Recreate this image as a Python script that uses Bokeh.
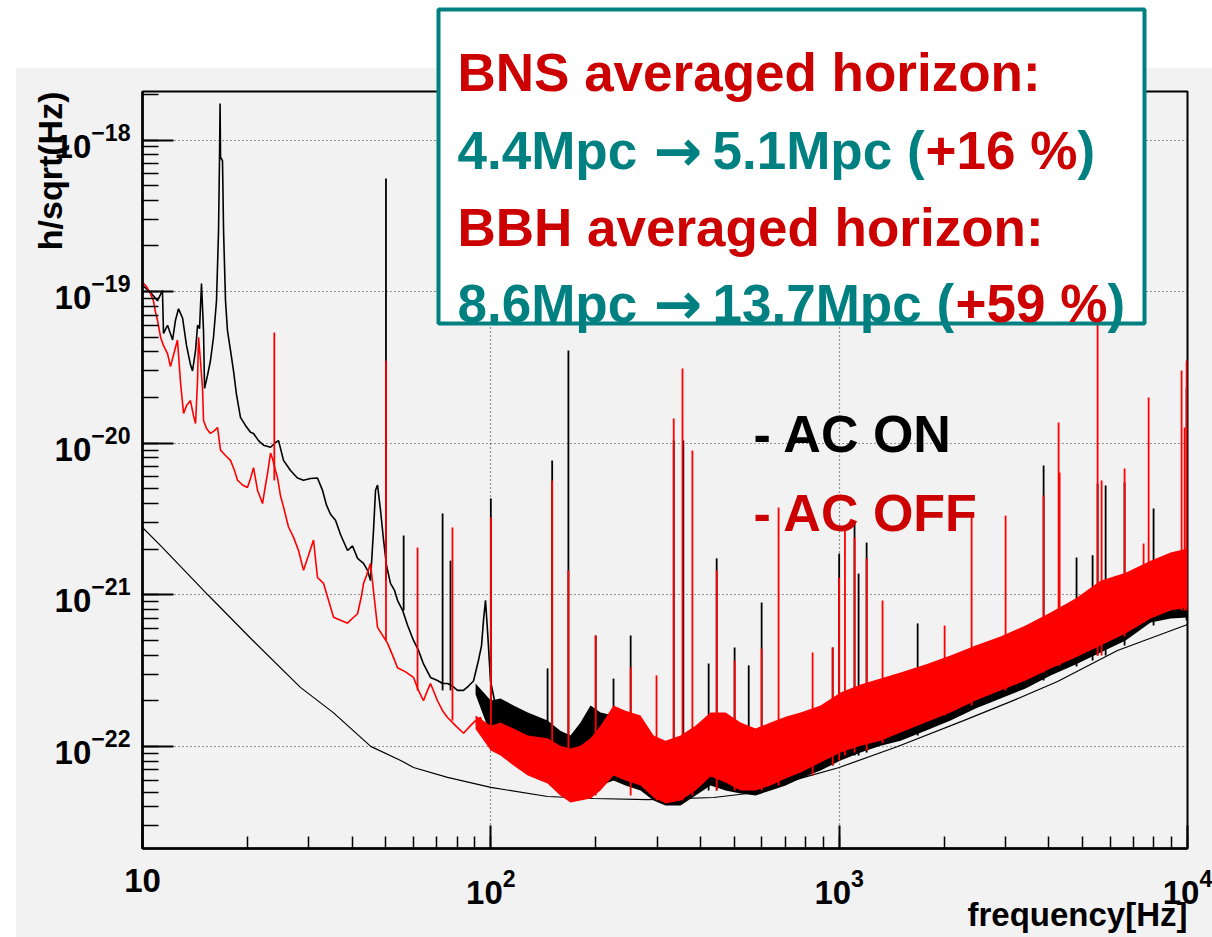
import numpy as np
from bokeh.plotting import figure
from bokeh.layouts import column
from bokeh.models import Label, BoxAnnotation, Range1d, Title
from bokeh.embed import file_html
from bokeh.resources import INLINE

# ---------------- data (frequency in Hz, strain ASD in 1/sqrt(Hz)) ----------------
x_ticks_plain = {10: "10"}

design_f = [10.0, 11.27, 15.4, 20.4, 28.4, 35.3, 45.2, 55.1, 60.0, 75.1, 100, 145.5, 197, 282,
            436, 546, 679, 774, 1000, 1472, 2276, 3168, 4236, 6295, 10000]
design_h = [2.78e-21, 2.11e-21, 1.0e-21, 5.19e-22, 2.45e-22, 1.67e-22, 1.0e-22, 8.07e-23, 7.26e-23,
            6.24e-23, 5.36e-23, 4.67e-23, 4.53e-23, 4.46e-23, 4.60e-23, 4.89e-23, 5.61e-23, 6.15e-23,
            7.26e-23, 9.98e-23, 1.48e-22, 2.01e-22, 2.68e-22, 4.29e-22, 6.37e-22]

# AC ON (black) low-frequency trace
on_trace_f = [10.0, 10.54, 11.04, 11.41, 11.49, 11.80, 12.20, 12.44, 12.69, 13.03, 13.38, 13.73, 13.92,
              14.20, 14.39, 14.58, 14.77, 14.97, 15.07, 15.37, 15.67, 15.99, 16.31, 16.53, 16.64, 16.70,
              16.75, 16.97, 17.09, 17.31, 17.54, 17.89, 18.25, 18.61, 19.11, 19.75, 20.42, 20.83, 21.53,
              22.26, 23.31, 24.09, 24.58, 25.40, 26.60, 27.86, 28.99, 30.36, 31.79, 32.86, 33.75, 34.65,
              35.82, 37.02, 38.78, 40.09, 41.44, 43.11, 44.26, 45.13, 46.04, 46.67, 47.29, 48.24, 49.20,
              50.17, 51.52, 52.90, 53.96, 55.80, 57.67, 59.98, 61.99, 64.07, 67.11, 70.29, 72.66, 75.10,
              77.62, 80.22, 83.46, 86.27, 89.17, 92.17, 94.01, 95.28, 96.54, 97.83, 99.8, 102.5, 104.5,
              110.2, 116.2]
on_trace_h = [1.10e-19, 9.9e-20, 8.7e-20, 1.02e-19, 5.3e-20, 6.0e-20, 4.8e-20, 6.5e-20, 7.7e-20, 6.7e-20,
              4.4e-20, 3.3e-20, 3.0e-20, 4.1e-20, 6.0e-20, 5.7e-20, 1.13e-19, 5.5e-20, 2.3e-20, 2.8e-20,
              3.5e-20, 5.0e-20, 8.7e-20, 2.5e-19, 7.7e-19, 1.74e-18, 7.7e-19, 7.3e-19, 2.5e-19, 8.7e-20,
              5.5e-20, 4.1e-20, 3.0e-20, 2.1e-20, 1.48e-20, 1.31e-20, 1.18e-20, 1.16e-20, 1.04e-20, 9.7e-21,
              9.4e-21, 1.01e-20, 1.04e-20, 7.7e-21, 6.6e-21, 5.9e-21, 5.7e-21, 5.85e-21, 5.9e-21, 4.9e-21,
              3.9e-21, 3.4e-21, 3.1e-21, 2.5e-21, 1.96e-21, 2.1e-21, 1.74e-21, 1.61e-21, 1.45e-21, 1.24e-21,
              2.65e-21, 4.9e-21, 5.3e-21, 3.6e-21, 2.3e-21, 1.56e-21, 1.19e-21, 1.07e-21, 9.2e-22, 7.9e-22,
              6.3e-22, 5.0e-22, 4.3e-22, 3.5e-22, 2.85e-22, 2.72e-22, 2.6e-22, 2.6e-22, 2.5e-22, 2.34e-22,
              2.34e-22, 2.5e-22, 2.7e-22, 3.7e-22, 4.6e-22, 6.8e-22, 9.2e-22, 5.8e-22, 2.7e-22, 2.0e-22,
              1.65e-22, 1.6e-22, 1.48e-22]

# AC OFF (red) low-frequency trace
off_trace_f = [10.0, 10.27, 10.54, 10.75, 10.90, 11.04, 11.27, 11.49, 11.80, 12.03, 12.27, 12.60, 12.86,
               13.12, 13.38, 13.73, 14.01, 14.20, 14.39, 14.48, 14.67, 14.87, 14.97, 15.27, 15.67, 16.10,
               16.42, 16.75, 17.31, 17.89, 18.37, 18.74, 19.37, 20.01, 20.42, 20.83, 21.39, 22.11, 22.55,
               22.85, 23.31, 23.62, 24.09, 24.42, 24.90, 25.40, 26.25, 27.13, 28.05, 28.99, 29.97, 30.97,
               31.79, 33.09, 34.20, 35.35, 37.02, 38.78, 40.09, 41.44, 42.55, 43.11, 43.97, 45.13, 46.36,
               47.29, 48.88, 50.5, 52.22, 53.96, 56.91, 59.98, 61.99, 64.07, 65.79, 67.11, 70.29, 72.66,
               75.10, 79.19, 83.46, 87.42, 90.40, 93.42, 96.54, 99.8, 104.5]
off_trace_h = [1.15e-19, 1.08e-19, 9.7e-20, 8.7e-20, 7.3e-20, 6.5e-20, 5.0e-20, 4.4e-20, 3.9e-20, 3.2e-20,
               3.8e-20, 4.8e-20, 2.5e-20, 1.57e-20, 1.77e-20, 1.91e-20, 1.52e-20, 1.35e-20, 2.6e-20, 5.0e-20,
               3.5e-20, 2.3e-20, 1.41e-20, 1.25e-20, 1.16e-20, 1.21e-20, 1.27e-20, 9.0e-21, 8.3e-21, 7.7e-21,
               6.6e-21, 5.7e-21, 5.3e-21, 5.1e-21, 5.85e-21, 6.9e-21, 4.9e-21, 4.0e-21, 5.3e-21, 6.3e-21,
               8.6e-21, 7.9e-21, 6.6e-21, 5.9e-21, 4.5e-21, 3.8e-21, 2.8e-21, 2.4e-21, 1.96e-21, 1.45e-21,
               1.82e-21, 2.3e-21, 1.30e-21, 1.19e-21, 9.2e-22, 7.1e-22, 6.8e-22, 6.5e-22, 7.0e-22, 7.5e-22,
               9.9e-22, 1.19e-21, 1.34e-21, 1.61e-21, 9.2e-22, 6.1e-22, 5.4e-22, 4.8e-22, 4.0e-22, 3.3e-22,
               3.1e-22, 2.85e-22, 2.34e-22, 2.0e-22, 2.34e-22, 2.6e-22, 2.0e-22, 1.72e-22, 1.55e-22, 1.37e-22,
               1.22e-22, 1.37e-22, 1.48e-22, 1.55e-22, 1.22e-22, 1.05e-22, 1.15e-22]

# dense noise envelope above ~90 Hz
band_f = [90.4, 100, 106.6, 116.2, 127.7, 145.5, 158.3, 169.3, 180.9, 193.3, 206.5, 225.0,
          243.6, 269.0, 293.2, 317.4, 350.4, 386.9, 427.4, 471.9, 521.2, 575.4, 635.5, 701.8, 774.9,
          884.6, 1009, 1152, 1315, 1501, 1770, 2088, 2464, 2906, 3429, 4045, 4772, 5629, 6642, 7836,
          8944, 10000]
on_band_hi = [2.6e-22, 2.01e-22, 2.07e-22, 1.86e-22, 1.67e-22, 1.48e-22, 1.27e-22,
              1.18e-22, 1.44e-22, 1.86e-22, 1.67e-22, 1.60e-22, 1.53e-22, 1.44e-22, 1.13e-22, 1.01e-22,
              1.09e-22, 1.27e-22, 1.44e-22, 1.37e-22, 1.27e-22, 1.18e-22, 1.31e-22, 1.44e-22, 1.53e-22,
              1.72e-22, 2.01e-22, 2.17e-22, 2.34e-22, 2.64e-22, 2.98e-22, 3.37e-22, 3.92e-22, 4.56e-22,
              5.31e-22, 6.37e-22, 7.64e-22, 9.17e-22, 1.07e-21, 1.28e-21, 1.45e-21, 1.49e-21]
on_band_lo = [2.2e-22, 1.18e-22, 1.13e-22, 1.01e-22, 8.7e-23, 7.48e-23, 5.96e-23,
              5.12e-23, 5.12e-23, 5.52e-23, 5.52e-23, 5.96e-23, 5.52e-23, 5.12e-23, 4.40e-23, 4.08e-23,
              4.08e-23, 4.74e-23, 5.52e-23, 5.12e-23, 4.89e-23, 4.74e-23, 5.12e-23, 5.52e-23, 6.14e-23,
              6.93e-23, 8.07e-23, 9.1e-23, 1.01e-22, 1.09e-22, 1.27e-22, 1.48e-22, 1.78e-22, 2.07e-22,
              2.41e-22, 2.94e-22, 3.47e-22, 4.16e-22, 4.99e-22, 6.57e-22, 6.98e-22, 7.08e-22]
off_band_hi = [1.6e-22, 1.37e-22, 1.44e-22, 1.31e-22, 1.18e-22, 1.13e-22, 1.01e-22,
               9.7e-23, 1.01e-22, 1.13e-22, 1.37e-22, 1.86e-22, 1.72e-22, 1.60e-22, 1.18e-22, 1.09e-22,
               1.18e-22, 1.37e-22, 1.67e-22, 1.67e-22, 1.44e-22, 1.31e-22, 1.44e-22, 1.57e-22, 1.67e-22,
               1.86e-22, 2.27e-22, 2.56e-22, 2.80e-22, 3.07e-22, 3.47e-22, 3.98e-22, 4.63e-22, 5.31e-22,
               6.27e-22, 7.64e-22, 9.45e-22, 1.24e-21, 1.40e-21, 1.68e-21, 1.90e-21, 2.02e-21]
off_band_lo = [1.3e-22, 9.4e-23, 8.7e-23, 7.48e-23, 6.43e-23, 5.69e-23, 4.74e-23,
               4.27e-23, 4.40e-23, 4.53e-23, 5.12e-23, 6.43e-23, 5.96e-23, 5.52e-23, 4.60e-23, 4.20e-23,
               4.40e-23, 5.12e-23, 6.33e-23, 5.78e-23, 5.12e-23, 5.12e-23, 5.52e-23, 6.14e-23, 6.73e-23,
               7.83e-23, 9.1e-23, 1.01e-22, 1.09e-22, 1.235e-22, 1.44e-22, 1.67e-22, 2.01e-22, 2.34e-22,
               2.72e-22, 3.27e-22, 3.86e-22, 4.63e-22, 5.56e-22, 6.98e-22, 7.88e-22, 8.24e-22]

# narrow lines
on_line_f = [50.0, 56.2, 72.7, 76.6, 100, 145.5, 150, 167, 200, 225, 252, 335, 357, 422, 445, 501, 550,
             599, 958, 1000, 1107, 1137, 1199, 1680, 3863, 4803, 5340, 5520, 5821, 6597, 7991, 9941]
on_line_peak = [5.57e-19, 2.46e-21, 3.44e-21, 1.68e-21, 4.32e-21, 3.27e-22, 7.69e-21, 4.09e-20, 5.39e-22,
                2.80e-22, 5.39e-22, 1.04e-20, 1.04e-20, 3.52e-22, 1.74e-21, 4.49e-22, 3.42e-22, 8.89e-22,
                4.49e-22, 1.87e-21, 3.00e-21, 1.38e-21, 2.21e-21, 6.47e-22, 7.13e-21, 1.76e-21, 1.82e-21,
                5.42e-21, 5.26e-21, 5.51e-21, 3.71e-21, 2.33e-20]
on_line_base = [1.24e-21, 7.9e-22, 2.34e-22, 2.34e-22, 1.48e-22, 1.09e-22, 1.09e-22, 8.07e-23, 8.07e-23,
                5.96e-23, 5.52e-23, 5.12e-23, 5.12e-23, 5.12e-23, 5.12e-23, 5.12e-23, 5.12e-23, 5.12e-23,
                7.48e-23, 8.07e-23, 8.7e-23, 8.7e-23, 9.1e-23, 1.18e-22, 2.72e-22, 3.37e-22, 3.69e-22,
                3.98e-22, 3.98e-22, 4.63e-22, 6.27e-22, 6.77e-22]
off_line_f = [23.9, 50.0, 61.6, 77.6, 100, 150, 167, 200, 252, 299, 335, 355, 379, 445, 501, 599, 670, 839,
              958, 1000, 1039, 1107, 1199, 1332, 2008, 2400, 3005, 3863, 4265, 4294, 5520, 5668, 6597,
              7481, 7734, 9618, 9810, 9941]
off_line_peak = [5.37e-20, 3.51e-20, 2.05e-21, 2.78e-21, 3.24e-21, 5.68e-21, 1.45e-21, 5.39e-22, 3.32e-22,
                 2.94e-22, 1.455e-20, 3.11e-20, 8.95e-21, 1.45e-21, 3.69e-22, 4.42e-22, 3.77e-21, 4.16e-22,
                 4.49e-22, 1.30e-21, 2.78e-21, 2.39e-21, 1.74e-21, 9.17e-22, 6.27e-22, 3.44e-21, 3.33e-21,
                 4.52e-21, 1.37e-20, 6.41e-21, 7.5e-20, 5.68e-21, 6.81e-21, 2.18e-21, 2.00e-20, 3.02e-20,
                 1.27e-20, 3.51e-20]
off_line_base = [5.68e-21, 4.99e-22, 2.34e-22, 1.48e-22, 9.4e-23, 6.93e-23, 5.12e-23, 4.74e-23, 4.74e-23,
                 4.40e-23, 4.40e-23, 4.40e-23, 4.74e-23, 5.12e-23, 5.12e-23, 5.12e-23, 5.52e-23, 6.43e-23,
                 7.48e-23, 8.07e-23, 8.7e-23, 9.1e-23, 9.4e-23, 1.05e-22, 1.60e-22, 1.86e-22, 2.34e-22,
                 3.07e-22, 3.42e-22, 3.42e-22, 3.98e-22, 3.98e-22, 5.31e-22, 6.57e-22, 6.98e-22, 7.88e-22,
                 7.88e-22, 7.88e-22]

# ---------------- page geometry ----------------
W, H = 1212, 937
PAGE_L, PAGE_T = 15, 67               # white page margin left / top of the gray panel
FL, FR, FT, FB = 142, 1187, 91, 848   # frame edges on the page
GRAY = "#f2f2f2"
RED_TXT = "#cc0000"
TEAL = "#008080"

# ---------------- main figure ----------------
p = figure(width=W - PAGE_L, height=H - PAGE_T, x_axis_type="log", y_axis_type="log",
           x_range=Range1d(10, 1e4), y_range=Range1d(2.12e-23, 2.09e-18),
           output_backend="svg", toolbar_location=None, title=None,
           min_border_left=FL - PAGE_L, min_border_right=W - FR,
           min_border_top=FT - PAGE_T, min_border_bottom=H - FB)
p.margin = (PAGE_T, 0, 0, PAGE_L)
p.background_fill_color = GRAY
p.border_fill_color = GRAY
p.outline_line_color = "black"
p.outline_line_width = 2

for ax in (p.xaxis[0], p.yaxis[0]):
    ax.major_label_text_font = "Liberation Sans"
    ax.major_label_text_font_style = "bold"
    ax.major_label_text_font_size = "33px"
    ax.major_label_text_color = "black"
    ax.axis_line_color = "black"
    ax.axis_line_width = 2.5
    ax.major_tick_line_color = "black"
    ax.major_tick_line_width = 2
    ax.minor_tick_line_color = "black"
    ax.minor_tick_line_width = 1.5
    ax.major_tick_out = 0
    ax.minor_tick_out = 0
p.yaxis.major_tick_in = 31
p.yaxis.minor_tick_in = 16
p.yaxis.major_label_standoff = 12
p.xaxis.major_tick_in = 23
p.xaxis.minor_tick_in = 12
p.xaxis.major_label_standoff = 20
p.xaxis.major_label_overrides = x_ticks_plain

# vertical axis title, flush with the top of the frame
p.add_layout(Title(text="h/sqrt(Hz)", align="right", text_font="Liberation Sans", text_font_style="bold",
                   text_font_size="34px", text_color="black", standoff=-34), "left")

p.grid.grid_line_color = "#333333"
p.grid.grid_line_dash = "1 3"
p.grid.grid_line_width = 1.2

p.line(design_f, design_h, line_color="black", line_width=1.2)
p.varea(x=band_f, y1=on_band_lo, y2=on_band_hi, fill_color="black")
p.line(on_trace_f, on_trace_h, line_color="black", line_width=1.6)
p.segment(x0=on_line_f, y0=on_line_base, x1=on_line_f, y1=on_line_peak, line_color="black", line_width=1.8)
p.varea(x=band_f, y1=off_band_lo, y2=off_band_hi, fill_color="#ff0000")
p.line(off_trace_f, off_trace_h, line_color="#ff0000", line_width=1.6)
p.segment(x0=off_line_f, y0=off_line_base, x1=off_line_f, y1=off_line_peak, line_color="#ff0000", line_width=1.8)

# ---------------- transparent overlay for the texts (page pixel coordinates) ----------------
q = figure(width=W - PAGE_L, height=H, x_range=Range1d(FL, FR), y_range=Range1d(H, 0),
           output_backend="svg", toolbar_location=None, title=None,
           min_border_left=FL - PAGE_L, min_border_right=W - FR, min_border_top=0, min_border_bottom=0,
           x_axis_location=None, y_axis_location=None)
q.margin = (-H, 0, 0, PAGE_L)
q.background_fill_alpha = 0
q.border_fill_alpha = 0
q.outline_line_color = None
q.xgrid.visible = False
q.ygrid.visible = False

q.add_layout(BoxAnnotation(left=438, right=1144, top=9, bottom=323, fill_color="white", fill_alpha=1,
                           line_color=TEAL, line_alpha=1, line_width=4))


def txt(s, x, y, color, size="53px", font="Liberation Sans", **kw):
    q.add_layout(Label(x=x, y=y, text=s, text_color=color, text_font=font, text_font_style="bold",
                       text_font_size=size, text_baseline="alphabetic", **kw))


txt("BNS averaged horizon:", 457, 72, RED_TXT)
txt("4.4Mpc", 457, 150, TEAL)
txt("\u2192", 653, 150, TEAL, size="58px", font="DejaVu Sans")
txt("5.1Mpc (", 712, 150, TEAL)
txt("+16 %", 925, 150, RED_TXT)
txt(")", 1077, 150, TEAL)
txt("BBH averaged horizon:", 457, 227, RED_TXT)
txt("8.6Mpc", 457, 303, TEAL)
txt("\u2192", 653, 303, TEAL, size="58px", font="DejaVu Sans")
txt("13.7Mpc (", 712, 303, TEAL)
txt("+59 %", 955, 303, RED_TXT)
txt(")", 1107, 303, TEAL)

txt("- AC ON", 753, 433, "black", size="52px")
txt("- AC OFF", 753, 512, RED_TXT, size="52px")

txt("frequency[Hz]", FR, 914, "black", size="33px", text_align="right")

open("out.html", "w").write(file_html(column(p, q, spacing=0), INLINE))
